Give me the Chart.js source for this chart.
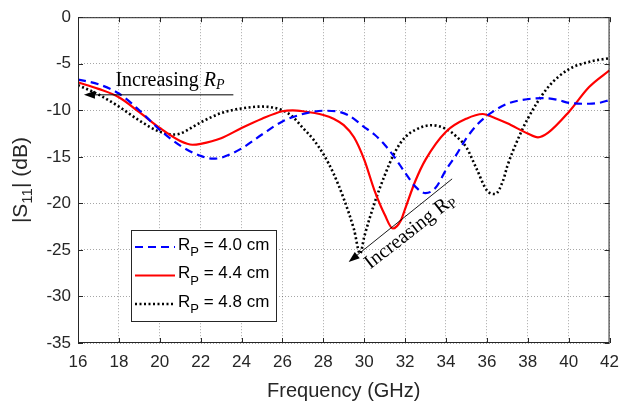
<!DOCTYPE html>
<html lang="en">
<head>
  <meta charset="UTF-8">
  <title>S11 vs Frequency</title>
  <script src="https://cdn.jsdelivr.net/npm/chart.js"></script>
  <style>
    html, body { margin: 0; padding: 0; background: #fff; }
    #wrap { width: 628px; height: 407px; }
  </style>
</head>
<body>
  <div id="wrap"><canvas id="s11-chart" width="628" height="407"></canvas></div>

  <script>
    // Data (GHz, dB)
    const freqRp40 = [16, 17, 18, 19, 20, 21, 22, 22.6, 23, 24, 25, 26, 27, 28, 28.6, 29.2, 30, 30.5, 31, 31.5, 32, 32.5, 33, 33.5, 34, 34.5, 35, 35.5, 36, 37, 38, 38.8, 39.5, 40, 41, 41.5, 42];
    const s11Rp40 = [-6.7, -7.2, -8.2, -10.0, -12.1, -13.8, -14.9, -15.2, -15.1, -14.1, -12.6, -11.2, -10.4, -10.05, -10.1, -10.5, -11.8, -12.6, -13.7, -15.1, -16.7, -18.2, -18.9, -18.3, -16.4, -14.8, -13.0, -11.6, -10.6, -9.3, -8.8, -8.7, -8.9, -9.2, -9.3, -9.2, -8.9];

    const freqRp44 = [16, 17, 18, 19, 20, 21, 21.6, 22, 23, 24, 25, 26, 26.5, 27, 28, 28.5, 29, 29.5, 30, 30.5, 31, 31.4, 31.8, 32, 32.5, 33, 34, 35, 35.8, 36, 37, 38, 38.5, 39, 40, 41, 42];
    const s11Rp44 = [-7.0, -7.7, -8.6, -10.2, -11.9, -13.3, -13.7, -13.6, -13.0, -11.9, -10.9, -10.1, -10.0, -10.1, -10.5, -10.9, -11.6, -12.9, -15.3, -18.6, -21.2, -22.7, -21.8, -20.6, -17.6, -15.3, -12.3, -10.9, -10.4, -10.5, -11.4, -12.5, -12.9, -12.4, -10.2, -7.5, -5.7];

    const freqRp48 = [16, 17, 18, 19, 20, 20.7, 21, 22, 23, 24, 25, 26, 26.5, 27, 27.5, 28, 28.5, 29, 29.5, 29.8, 30, 30.5, 31, 31.5, 32, 32.5, 33.3, 34, 34.5, 35, 35.5, 36, 36.4, 36.8, 37, 37.5, 38, 39, 40, 41, 42];
    const s11Rp48 = [-7.3, -8.3, -9.6, -11.1, -12.3, -12.6, -12.5, -11.3, -10.3, -9.8, -9.6, -10.0, -10.7, -11.9, -13.1, -14.7, -16.8, -19.5, -22.8, -25.4, -23.6, -20.0, -17.0, -14.5, -12.9, -12.1, -11.6, -12.0, -12.8, -14.0, -16.3, -18.6, -19.0, -17.5, -16.0, -13.2, -10.9, -7.5, -5.6, -4.8, -4.4];

    const legendValues = ["4.0", "4.4", "4.8"];
    const xTicks = [16, 42, 2];   // min, max, step
    const yTicks = [-35, 0, 5];

    const toPoints = (xs, ys) => xs.map((x, i) => ({ x: x, y: ys[i] }));

    const styles = [
      { color: "#0000ff", width: 2.2, dash: [8, 5] },
      { color: "#ff0000", width: 2.2, dash: [] },
      { color: "#000000", width: 2.6, dash: [2, 2.5] }
    ];

    const axisFont = "Liberation Sans, Arial, sans-serif";
    const serifFont = "Liberation Serif, Times New Roman, serif";
    const textColor = "#262626";

    function arrow(ctx, x1, y1, x2, y2) {
      // line from (x1,y1) to tip (x2,y2)
      const ang = Math.atan2(y2 - y1, x2 - x1);
      const len = 11, half = 4;
      ctx.beginPath();
      ctx.moveTo(x1, y1);
      ctx.lineTo(x2 - Math.cos(ang) * len * 0.8, y2 - Math.sin(ang) * len * 0.8);
      ctx.stroke();
      ctx.beginPath();
      ctx.moveTo(x2, y2);
      ctx.lineTo(x2 - Math.cos(ang) * len + Math.sin(ang) * half, y2 - Math.sin(ang) * len - Math.cos(ang) * half);
      ctx.lineTo(x2 - Math.cos(ang) * len - Math.sin(ang) * half, y2 - Math.sin(ang) * len + Math.cos(ang) * half);
      ctx.closePath();
      ctx.fill();
    }

    const decorations = {
      id: "decorations",
      afterDraw(chart) {
        const ctx = chart.ctx;
        const a = chart.chartArea;
        const xs = chart.scales.x, ys = chart.scales.y;
        ctx.save();

        // plot box with inward ticks
        ctx.strokeStyle = textColor;
        ctx.lineWidth = 1;
        ctx.strokeRect(a.left + 0.5, a.top + 0.5, a.right - a.left - 1, a.bottom - a.top - 1);
        ctx.beginPath();
        for (let v = xTicks[0]; v <= xTicks[1]; v += xTicks[2]) {
          const px = Math.round(xs.getPixelForValue(v)) + 0.5;
          ctx.moveTo(px, a.bottom); ctx.lineTo(px, a.bottom - 5);
          ctx.moveTo(px, a.top); ctx.lineTo(px, a.top + 5);
        }
        for (let v = yTicks[0]; v <= yTicks[1]; v += yTicks[2]) {
          const py = Math.round(ys.getPixelForValue(v)) + 0.5;
          ctx.moveTo(a.left, py); ctx.lineTo(a.left + 5, py);
          ctx.moveTo(a.right, py); ctx.lineTo(a.right - 5, py);
        }
        ctx.stroke();

        // axis titles
        ctx.fillStyle = textColor;
        ctx.font = "20px " + axisFont;
        ctx.textAlign = "center";
        ctx.textBaseline = "alphabetic";
        ctx.fillText("Frequency (GHz)", (a.left + a.right) / 2, 397);

        ctx.save();
        ctx.translate(27, (a.top + a.bottom) / 2);
        ctx.rotate(-Math.PI / 2);
        ctx.textAlign = "left";
        const p1 = "|S", p2 = "11", p3 = "| (dB)";
        ctx.font = "21px " + axisFont;
        const w1 = ctx.measureText(p1).width, w3 = ctx.measureText(p3).width;
        ctx.font = "15px " + axisFont;
        const w2 = ctx.measureText(p2).width;
        let sx = -(w1 + w2 + w3) / 2;
        ctx.font = "21px " + axisFont;
        ctx.fillText(p1, sx, 0);
        ctx.font = "15px " + axisFont;
        ctx.fillText(p2, sx + w1, 5);
        ctx.font = "21px " + axisFont;
        ctx.fillText(p3, sx + w1 + w2, 0);
        ctx.restore();

        // legend
        const lx = 131, ly = 230, lw = 145, lh = 91;
        ctx.fillStyle = "#fff";
        ctx.fillRect(lx, ly, lw, lh);
        ctx.strokeStyle = textColor;
        ctx.lineWidth = 1;
        ctx.strokeRect(lx + 0.5, ly + 0.5, lw, lh);
        const rows = [247, 275.5, 304];
        legendValues.forEach((val, i) => {
          const st = styles[i];
          ctx.strokeStyle = st.color;
          ctx.lineWidth = st.width;
          ctx.setLineDash(st.dash);
          ctx.beginPath();
          ctx.moveTo(135, rows[i]);
          ctx.lineTo(175, rows[i]);
          ctx.stroke();
          ctx.setLineDash([]);
          ctx.fillStyle = "#000";
          ctx.textAlign = "left";
          ctx.font = "17px " + axisFont;
          ctx.fillText("R", 178, rows[i] + 2.5);
          const rw = ctx.measureText("R").width;
          ctx.font = "13px " + axisFont;
          ctx.fillText("P", 178 + rw, rows[i] + 9);
          const pw = ctx.measureText("P").width;
          ctx.font = "17px " + axisFont;
          ctx.fillText(" = " + val + " cm", 178 + rw + pw, rows[i] + 2.5);
        });

        // annotation 1: horizontal arrow towards low frequency
        ctx.strokeStyle = "#000";
        ctx.fillStyle = "#000";
        ctx.lineWidth = 1;
        const ay1 = ys.getPixelForValue(-8.34);
        arrow(ctx, xs.getPixelForValue(23.6), ay1, xs.getPixelForValue(16.29), ay1);
        ctx.font = "20px " + serifFont;
        ctx.textAlign = "left";
        const tX = xs.getPixelForValue(17.83), tY = ys.getPixelForValue(-7.4);
        ctx.fillText("Increasing ", tX, tY);
        const iw = ctx.measureText("Increasing ").width;
        ctx.font = "italic 20px " + serifFont;
        ctx.fillText("R", tX + iw, tY);
        const rw2 = ctx.measureText("R").width;
        ctx.font = "italic 14px " + serifFont;
        ctx.fillText("P", tX + iw + rw2, tY + 3);

        // annotation 2: diagonal arrow towards the deep minima
        ctx.lineWidth = 0.9;
        arrow(ctx, xs.getPixelForValue(34.3), ys.getPixelForValue(-17.37),
                   xs.getPixelForValue(29.24), ys.getPixelForValue(-26.29));
        ctx.save();
        ctx.translate(xs.getPixelForValue(30.3), ys.getPixelForValue(-27.1));
        ctx.rotate(-38 * Math.PI / 180);
        ctx.font = "20px " + serifFont;
        ctx.fillText("Increasing R", 0, 0);
        const w4 = ctx.measureText("Increasing R").width;
        ctx.font = "14px " + serifFont;
        ctx.fillText("P", w4, 3);
        ctx.restore();

        ctx.restore();
      }
    };

    const ctx = document.getElementById("s11-chart").getContext("2d");
    new Chart(ctx, {
      type: "line",
      data: {
        datasets: [
          { label: "Rp = 4.0 cm", data: toPoints(freqRp40, s11Rp40) },
          { label: "Rp = 4.4 cm", data: toPoints(freqRp44, s11Rp44) },
          { label: "Rp = 4.8 cm", data: toPoints(freqRp48, s11Rp48) }
        ].map((d, i) => Object.assign(d, {
          borderColor: styles[i].color,
          borderWidth: styles[i].width,
          borderDash: styles[i].dash,
          borderCapStyle: "butt",
          pointRadius: 0,
          fill: false,
          cubicInterpolationMode: "monotone"
        }))
      },
      options: {
        responsive: false,
        animation: false,
        events: [],
        layout: { padding: { left: 0, right: 10, top: 9, bottom: 0 } },
        plugins: { legend: { display: false }, tooltip: { enabled: false } },
        scales: {
          x: {
            type: "linear",
            min: xTicks[0], max: xTicks[1],
            afterFit: s => { s.height = 64; },
            ticks: { stepSize: xTicks[2], padding: 9, color: textColor, font: { family: axisFont, size: 17 } },
            grid: { color: "rgba(0,0,0,0.35)", lineWidth: 1, drawTicks: false },
            border: { display: false, dash: [1, 2] }
          },
          y: {
            min: yTicks[0], max: yTicks[1],
            afterFit: s => { s.width = 78; },
            ticks: { stepSize: yTicks[2], padding: 7, color: textColor, font: { family: axisFont, size: 17 } },
            grid: { color: "rgba(0,0,0,0.35)", lineWidth: 1, drawTicks: false },
            border: { display: false, dash: [1, 2] }
          }
        }
      },
      plugins: [decorations]
    });
  </script>
</body>
</html>
